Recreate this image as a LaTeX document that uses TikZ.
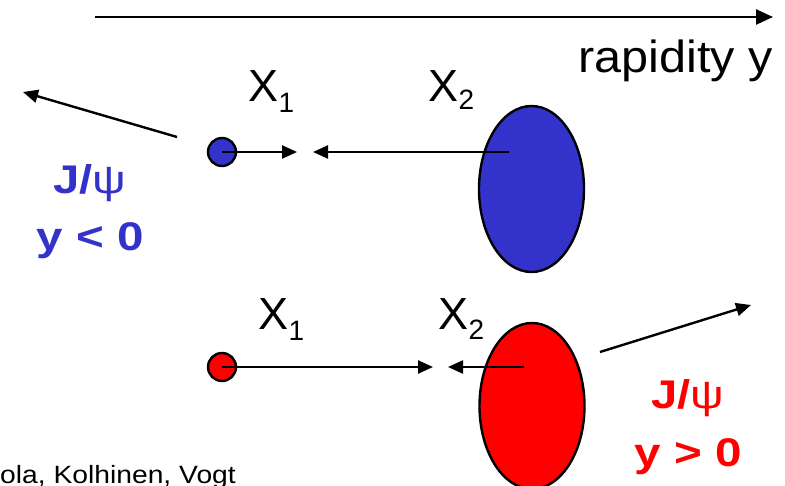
\documentclass[tikz,border=0pt]{standalone}
\usepackage{fontspec}
\setmainfont{Liberation Sans}
\usetikzlibrary{arrows.meta,shapes.geometric}
\definecolor{rapBlue}{HTML}{3333CC}
\definecolor{rapRed}{HTML}{FF0000}
\newcommand{\rapwide}[2]{\scalebox{#1}[1]{#2}}
\tikzset{
  rap axis/.style={draw=black, line width=2.5pt, -{Triangle[length=17pt,width=15pt]}},
  rap arrow/.style={draw=black, line width=2.4pt, -{Triangle[length=15pt,width=13pt]}},
  rap parton/.style={circle, draw=black, line width=2.4pt, minimum size=28pt, inner sep=0pt},
  rap nucleus/.style={ellipse, draw=black, line width=2.4pt, minimum width=105pt, minimum height=166pt, inner sep=0pt},
  rap label/.style={font=\fontsize{45}{45}\selectfont, text=black, inner sep=0pt, anchor=base west},
  rap sub/.style={font=\fontsize{28}{28}\selectfont, text=black, inner sep=0pt, anchor=base west},
  rap psi/.style={font=\fontsize{40}{40}\selectfont\bfseries, inner sep=0pt, anchor=base},
  rap cite/.style={font=\fontsize{25}{25}\selectfont, text=black, inner sep=0pt, anchor=base west},
}

\begin{document}
\begin{tikzpicture}[x=1pt,y=-1pt]
  \useasboundingbox (0,0) rectangle (785,486);
  % rapidity axis
  \coordinate (axisL) at (95,17);
  \coordinate (axisR) at (773,17);
  \draw[rap axis] (axisL) -- (axisR);
  \node[rap label] (rapY) at (578,73) {\rapwide{1.08}{rapidity y}};

  % upper case: J/psi at negative rapidity
  \node[rap nucleus, fill=rapBlue] (nucA) at (531.5,189) {};
  \node[rap parton, fill=rapBlue] (partA) at (222,152) {};
  \coordinate (tipA1) at (297,152);
  \coordinate (tipA2) at (313,152);
  \coordinate (srcA2) at (509,152);
  \draw[rap arrow] (partA.center) -- (tipA1);
  \draw[rap arrow] (srcA2) -- (tipA2);
  \node[rap label] (xA1) at (248,102) {X};
  \node[rap sub] (xA1s) at (xA1.base east) [yshift=-11pt] {1};
  \node[rap label] (xA2) at (428,102) {X};
  \node[rap sub] (xA2s) at (xA2.base east) [yshift=-8pt] {2};
  \coordinate (jA0) at (177,137);
  \coordinate (jA1) at (23,92);
  \draw[rap arrow] (jA0) -- (jA1);
  \node[rap psi, text=rapBlue] (psiA) at (90,194) {\rapwide{1.18}{J/{\mdseries ψ}}};
  \node[rap psi, text=rapBlue] (yA) at (90,251) {\rapwide{1.19}{y < 0}};

  % lower case: J/psi at positive rapidity
  \node[rap nucleus, fill=rapRed] (nucB) at (532,406) {};
  \node[rap parton, fill=rapRed] (partB) at (222,367) {};
  \coordinate (tipB1) at (433,367);
  \coordinate (tipB2) at (448,367);
  \coordinate (srcB2) at (524,367);
  \draw[rap arrow] (partB.center) -- (tipB1);
  \draw[rap arrow] (srcB2) -- (tipB2);
  \node[rap label] (xB1) at (258,330) {X};
  \node[rap sub] (xB1s) at (xB1.base east) [yshift=-11pt] {1};
  \node[rap label] (xB2) at (438,330) {X};
  \node[rap sub] (xB2s) at (xB2.base east) [yshift=-10pt] {2};
  \coordinate (jB0) at (600,352);
  \coordinate (jB1) at (751,305);
  \draw[rap arrow] (jB0) -- (jB1);
  \node[rap psi, text=rapRed] (psiB) at (688,409) {\rapwide{1.18}{J/{\mdseries ψ}}};
  \node[rap psi, text=rapRed] (yB) at (688,466) {\rapwide{1.19}{y > 0}};

  \node[rap cite] (cite) at (0,483) {\rapwide{1.13}{ola, Kolhinen, Vogt}};
\end{tikzpicture}
\end{document}
